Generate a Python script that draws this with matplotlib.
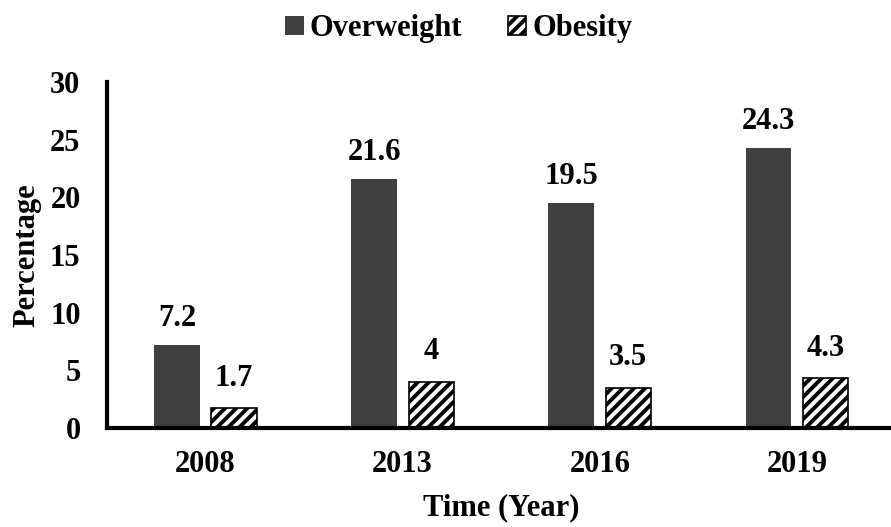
import matplotlib
matplotlib.use('Agg')
import matplotlib.pyplot as plt
import numpy as np

# Dados
anos = ['2008', '2013', '2016', '2019']
sobrepeso = [7.2, 21.6, 19.5, 24.3]
obesidade = [1.7, 4, 3.5, 4.3]

plt.rcParams['font.family'] = ['Liberation Serif', 'DejaVu Serif']
plt.rcParams['font.weight'] = 'bold'
plt.rcParams['hatch.linewidth'] = 2.8

fig = plt.figure(figsize=(8.91, 5.27), dpi=100)
ax = fig.add_axes([0.12, 0.188, 0.885, 0.656])

x = np.arange(len(anos))
largura = 0.23
desloc = 0.145
fs = 22

ax.bar(x - desloc, sobrepeso, largura, color='#404040', label='Overweight')
ax.bar(x + desloc, obesidade, largura, color='white', edgecolor='black',
       hatch='///', linewidth=1.2, label='Obesity')

# Rótulos dos valores
for xi, v in zip(x - desloc, sobrepeso):
    ax.text(xi, v + 2.3, f'{v:g}', ha='center', va='center', fontsize=fs, fontweight='bold')
for xi, v in zip(x + desloc, obesidade):
    ax.text(xi, v + 2.6, f'{v:g}', ha='center', va='center', fontsize=fs, fontweight='bold')

ax.set_xlim(-0.5, 3.5)
ax.set_ylim(0, 30)
ax.set_yticks([0, 5, 10, 15, 20, 25, 30])
ax.set_xticks(x)
ax.set_xticklabels(anos)
ax.tick_params(length=0, labelsize=fs)
ax.tick_params(axis='x', pad=16)
ax.tick_params(axis='y', pad=19)
for lbl in ax.get_xticklabels() + ax.get_yticklabels():
    lbl.set_fontweight('bold')

ax.spines['top'].set_visible(False)
ax.spines['right'].set_visible(False)
ax.spines['left'].set_linewidth(3)
ax.spines['bottom'].set_linewidth(3)

ax.set_ylabel('Percentage', fontsize=fs, fontweight='bold', labelpad=6)
ax.set_xlabel('Time (Year)', fontsize=fs, fontweight='bold', labelpad=10)

fig.legend(loc='upper center', bbox_to_anchor=(0.515, 1.025), ncol=2, frameon=False,
           handlelength=0.6, handleheight=0.6, handletextpad=0.2,
           columnspacing=1.5, prop={'weight': 'bold', 'size': fs})

plt.savefig('out.png', dpi=100)
plt.close('all')
